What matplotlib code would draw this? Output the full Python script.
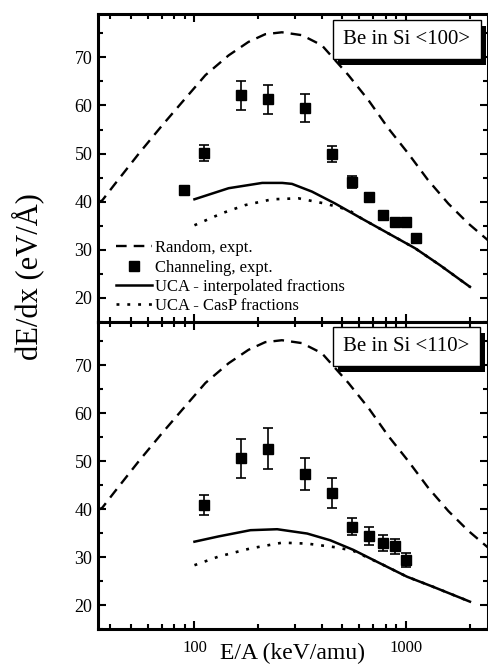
import matplotlib
matplotlib.use("Agg")
import matplotlib.pyplot as plt
from matplotlib.ticker import MultipleLocator, LogLocator, NullFormatter, FixedLocator, FixedFormatter
from matplotlib.patches import Rectangle
from matplotlib.transforms import IdentityTransform

plt.rcParams['font.family'] = ['Liberation Serif', 'DejaVu Serif']

# ---------------- data ----------------
E_random = [35, 36.7, 41.6, 54.6, 70.5, 87.5, 112.7, 145, 180, 216, 259, 322, 400, 534, 664, 826,
            1025, 1270, 1584, 1966, 2437]
dE_random = [39.8, 40.3, 43.4, 50.0, 55.9, 60.7, 66.3, 70.4, 73.2, 74.8, 75.2, 74.6, 72.5, 66.3, 61.1, 55.2,
             50.0, 44.5, 39.6, 35.5, 32.0]

# <100>
E_ch100 = [88.9, 111.1, 166.7, 222.2, 333.3, 444.4, 555.6, 666.7, 777.8, 888.9, 1000, 1111.1]
dE_ch100 = [42.4, 50.1, 62.1, 61.3, 59.4, 49.9, 44.1, 41.0, 37.2, 35.8, 35.8, 32.4]
err_ch100 = [0.6, 1.6, 3.0, 3.0, 2.9, 1.7, 1.3, 0.8, 0.6, 0.6, 0.6, 0.6]

E_uca100 = [100, 145, 209, 260, 289, 359, 463, 617, 826, 1106, 1448, 2005]
dE_uca100 = [40.5, 42.8, 43.9, 43.9, 43.7, 42.1, 39.6, 36.5, 33.4, 30.3, 26.8, 22.3]
E_casp100 = [100, 135, 174, 233, 310, 415, 534, 617, 826, 1106, 1448, 2005]
dE_casp100 = [35.1, 37.6, 39.3, 40.5, 40.7, 39.6, 38.3, 36.5, 33.4, 30.3, 26.8, 22.3]

# <110>
E_ch110 = [111.1, 166.7, 222.2, 333.3, 444.4, 555.6, 666.7, 777.8, 888.9, 1000]
dE_ch110 = [40.8, 50.6, 52.6, 47.3, 43.4, 36.3, 34.4, 33.0, 32.2, 29.4]
err_ch110 = [2.1, 4.1, 4.2, 3.4, 3.1, 1.8, 1.8, 1.7, 1.5, 1.5]

E_uca110 = [100, 130, 184, 246, 341, 438, 563, 753, 1011, 1342, 2005]
dE_uca110 = [33.2, 34.3, 35.6, 35.8, 34.9, 33.5, 31.5, 28.7, 25.9, 23.8, 20.7]
E_casp110 = [100, 130, 184, 260, 341, 472, 563, 753, 1011, 1342, 2005]
dE_casp110 = [28.3, 30.1, 31.8, 33.0, 32.8, 32.0, 31.3, 28.7, 25.9, 23.8, 20.7]

labels = ["Random, expt.", "Channeling, expt.", "UCA - interpolated fractions", "UCA - CasP fractions"]
titles = ["Be in Si <100>", "Be in Si <110>"]

# ---------------- figure ----------------
W, H = 489, 667
fig = plt.figure(figsize=(W / 100, H / 100), dpi=100)
ax1 = fig.add_axes([98 / W, 1 - 322 / H, 390 / W, 308 / H])
ax2 = fig.add_axes([98 / W, 1 - 629 / H, 390 / W, 307 / H])

panels = [
    (ax1, E_ch100, dE_ch100, err_ch100, E_uca100, dE_uca100, E_casp100, dE_casp100, titles[0]),
    (ax2, E_ch110, dE_ch110, err_ch110, E_uca110, dE_uca110, E_casp110, dE_casp110, titles[1]),
]

title_texts = []
for i, (ax, Ec, dc, ec, Eu, du, Ep, dp, title) in enumerate(panels):
    ax.plot(E_random, dE_random, color='black', lw=1.7, dashes=(4.5, 3.0), label=labels[0])
    ax.errorbar(Ec, dc, yerr=ec, fmt='none', ecolor='black', elinewidth=1.2, capsize=3.5, capthick=1.2)
    ax.plot(Ec, dc, 's', color='black', ms=6.5, label=labels[1])
    ax.plot(Eu, du, color='black', lw=1.8, label=labels[2])
    ax.plot(Ep, dp, color='black', lw=1.9, dashes=(1.1, 3.0), label=labels[3])

    ax.set_xscale('log')
    ax.set_xlim(35, 2440)
    ax.set_ylim(15, 79)
    ax.yaxis.set_major_locator(MultipleLocator(10))
    ax.yaxis.set_minor_locator(MultipleLocator(5))
    ax.xaxis.set_major_locator(FixedLocator([100, 1000]))
    ax.xaxis.set_major_formatter(FixedFormatter(["100", "1000"]))
    ax.xaxis.set_minor_locator(LogLocator(base=10, subs=range(2, 10)))
    ax.xaxis.set_minor_formatter(NullFormatter())
    ax.tick_params(which='both', direction='in', top=True, right=True, width=1.5)
    ax.tick_params(which='major', length=5.5)
    ax.tick_params(which='minor', length=3.5)
    ax.tick_params(axis='y', labelsize=13, pad=4)
    ax.tick_params(axis='x', labelsize=12, pad=8)
    for sp in ax.spines.values():
        sp.set_linewidth(2.2)

    tx, ty = (0.792, 0.917) if i == 0 else (0.791, 0.920)
    t = ax.text(tx, ty, title, transform=ax.transAxes, ha='center', va='center', fontsize=15, color='black',
                bbox=dict(boxstyle='square,pad=0.5', fc='white', ec='black', lw=1.0), zorder=6)
    title_texts.append((ax, t))

ax1.tick_params(axis='x', labelbottom=False)

leg = ax1.legend(loc='lower left', bbox_to_anchor=(0.045, 0.025), frameon=False, fontsize=12,
                 handlelength=2.2, handletextpad=0.15, labelspacing=0.2, borderpad=0, borderaxespad=0)

ax2.set_xlabel("E/A (keV/amu)", fontsize=17)
ax2.xaxis.set_label_coords(0.5, -0.045)

fig.text(28 / W, 1 - 277 / H, "dE/dx (eV/Å)", rotation=90, ha='center', va='center', fontsize=22)

# drop shadows behind the label boxes
fig.canvas.draw()
renderer = fig.canvas.get_renderer()
for ax, t in title_texts:
    bb = t.get_bbox_patch().get_window_extent(renderer)
    shadow = Rectangle((bb.x0 + 5, bb.y0 - 6), bb.width, bb.height, transform=IdentityTransform(),
                       facecolor='black', edgecolor='none', zorder=5)
    ax.add_patch(shadow)

fig.savefig("out.png", dpi=100)
